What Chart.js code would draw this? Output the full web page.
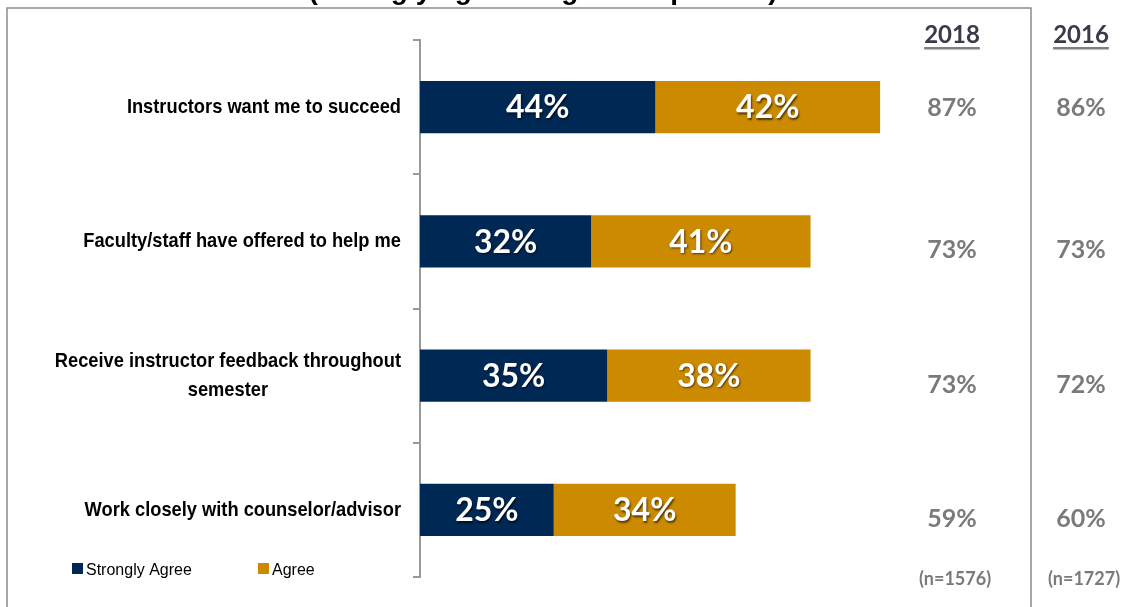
<!DOCTYPE html>
<html>
<head>
<meta charset="utf-8">
<script src="https://cdn.jsdelivr.net/npm/chart.js@4"></script>
<style>
  html, body { margin: 0; padding: 0; background: #fff; }
  #wrap { width: 1122px; height: 607px; position: relative; }
</style>
</head>
<body>
<div id="wrap"><canvas id="supportChart"></canvas></div>
<script>
const titleText = '(Strongly agree + agree responses)';
const categories = [
    'Instructors want me to succeed',
    'Faculty/staff have offered to help me',
    ['Receive instructor feedback throughout', 'semester'],
    'Work closely with counselor/advisor'
];
const stronglyAgree = [44, 32, 35, 25];
const agree = [42, 41, 38, 34];
const years = ['2018', '2016'];
const total2018 = [87, 73, 73, 59];
const total2016 = [86, 73, 72, 60];
const sampleSizes = ['(n=1576)', '(n=1727)'];

const NAVY = '#002855';
const GOLD = '#cc8a00';
const GREY = '#7a7a7a';

const decorations = {
    id: 'decorations',
    beforeDraw(chart) {
        const ctx = chart.ctx;
        ctx.save();
        ctx.fillStyle = '#fff';
        ctx.fillRect(0, 0, chart.width, chart.height);
        // frame around the plot
        ctx.strokeStyle = '#8c8c8c';
        ctx.lineWidth = 1.5;
        ctx.beginPath();
        ctx.moveTo(7, chart.height + 2);
        ctx.lineTo(7, 8);
        ctx.lineTo(1031, 8);
        ctx.lineTo(1031, chart.height + 2);
        ctx.stroke();
        // title, mostly cut off at the top edge
        ctx.fillStyle = '#000';
        ctx.font = 'bold 28px "Liberation Sans", Arial, sans-serif';
        ctx.textAlign = 'center';
        ctx.textBaseline = 'alphabetic';
        ctx.fillText(titleText, 543, -1);
        ctx.restore();
    },
    afterDatasetsDraw(chart) {
        const ctx = chart.ctx;
        ctx.save();
        ctx.font = 'bold 32px Lato, "Open Sans", sans-serif';
        ctx.textAlign = 'center';
        ctx.textBaseline = 'middle';
        ctx.fillStyle = '#fff';
        ctx.shadowColor = 'rgba(0,0,0,0.6)';
        ctx.shadowOffsetX = 1;
        ctx.shadowOffsetY = 1.5;
        ctx.shadowBlur = 2;
        chart.data.datasets.forEach((ds, i) => {
            chart.getDatasetMeta(i).data.forEach((bar, j) => {
                ctx.fillText(ds.data[j] + '%', (bar.x + bar.base) / 2, bar.y + 1);
            });
        });
        ctx.restore();
    },
    afterDraw(chart) {
        const ctx = chart.ctx;
        const yScale = chart.scales.y;
        ctx.save();

        // category labels in a narrow bold face: right edge near the axis,
        // lines of a wrapped label centred in their block
        const squeeze = 0.87;
        ctx.font = 'bold 21px "Liberation Sans", Arial, sans-serif';
        ctx.fillStyle = '#000';
        ctx.textBaseline = 'middle';
        ctx.textAlign = 'center';
        categories.forEach((cat, i) => {
            const lines = Array.isArray(cat) ? cat : [cat];
            const widest = Math.max(...lines.map(l => ctx.measureText(l).width)) * squeeze;
            const cx = 401 - widest / 2;
            const lh = 29;
            const y0 = yScale.getPixelForValue(i) - (lines.length - 1) * lh / 2;
            lines.forEach((l, k) => {
                ctx.save();
                ctx.translate(cx, y0 + k * lh);
                ctx.scale(squeeze, 1);
                ctx.fillText(l, 0, 0);
                ctx.restore();
            });
        });

        // year columns
        const colX = [952, 1081];
        ctx.font = 'bold 24px Lato, sans-serif';
        ctx.textBaseline = 'middle';
        years.forEach((yr, c) => {
            ctx.fillStyle = '#3a3a48';
            ctx.fillText(yr, colX[c], 35);
            const w = ctx.measureText(yr).width;
            ctx.fillStyle = '#7f7f7f';
            ctx.fillRect(colX[c] - w / 2, 47, w, 2.5);
        });
        ctx.font = 'bold 25px Lato, sans-serif';
        ctx.fillStyle = GREY;
        [total2018, total2016].forEach((vals, c) => {
            vals.forEach((v, i) => {
                const y = yScale.getPixelForValue(i) + (i === 0 ? 1 : 9);
                ctx.fillText(v + '%', colX[c], y);
            });
        });
        ctx.font = 'bold 18px Lato, sans-serif';
        sampleSizes.forEach((s, c) => ctx.fillText(s, colX[c] + 3, 579));

        // legend
        ctx.font = '16px "Liberation Sans", Arial, sans-serif';
        ctx.textAlign = 'left';
        const legendX = [72, 258];
        chart.data.datasets.forEach((ds, i) => {
            ctx.fillStyle = ds.backgroundColor;
            ctx.fillRect(legendX[i], 563, 11, 11);
            ctx.fillStyle = '#000';
            ctx.fillText(ds.label, legendX[i] + 14, 571);
        });
        ctx.restore();
    }
};

new Chart(document.getElementById('supportChart'), {
    type: 'bar',
    data: {
        labels: categories,
        datasets: [
            { label: 'Strongly Agree', data: stronglyAgree, backgroundColor: NAVY, borderWidth: 0 },
            { label: 'Agree', data: agree, backgroundColor: GOLD, borderWidth: 0 }
        ]
    },
    options: {
        indexAxis: 'y',
        responsive: true,
        maintainAspectRatio: false,
        animation: false,
        categoryPercentage: 0.39,
        barPercentage: 1,
        layout: { padding: { left: 0, right: 167, top: 40, bottom: 30 } },
        scales: {
            x: { stacked: true, display: false, min: 0, max: 100 },
            y: {
                stacked: true,
                ticks: { display: false },
                grid: { drawOnChartArea: false, tickLength: 7, color: '#999', lineWidth: 2 },
                border: { color: '#999', width: 2 },
                afterFit(scale) { scale.width = 420; }
            }
        },
        plugins: {
            legend: { display: false },
            tooltip: { enabled: false }
        }
    },
    plugins: [decorations]
});
</script>
</body>
</html>
